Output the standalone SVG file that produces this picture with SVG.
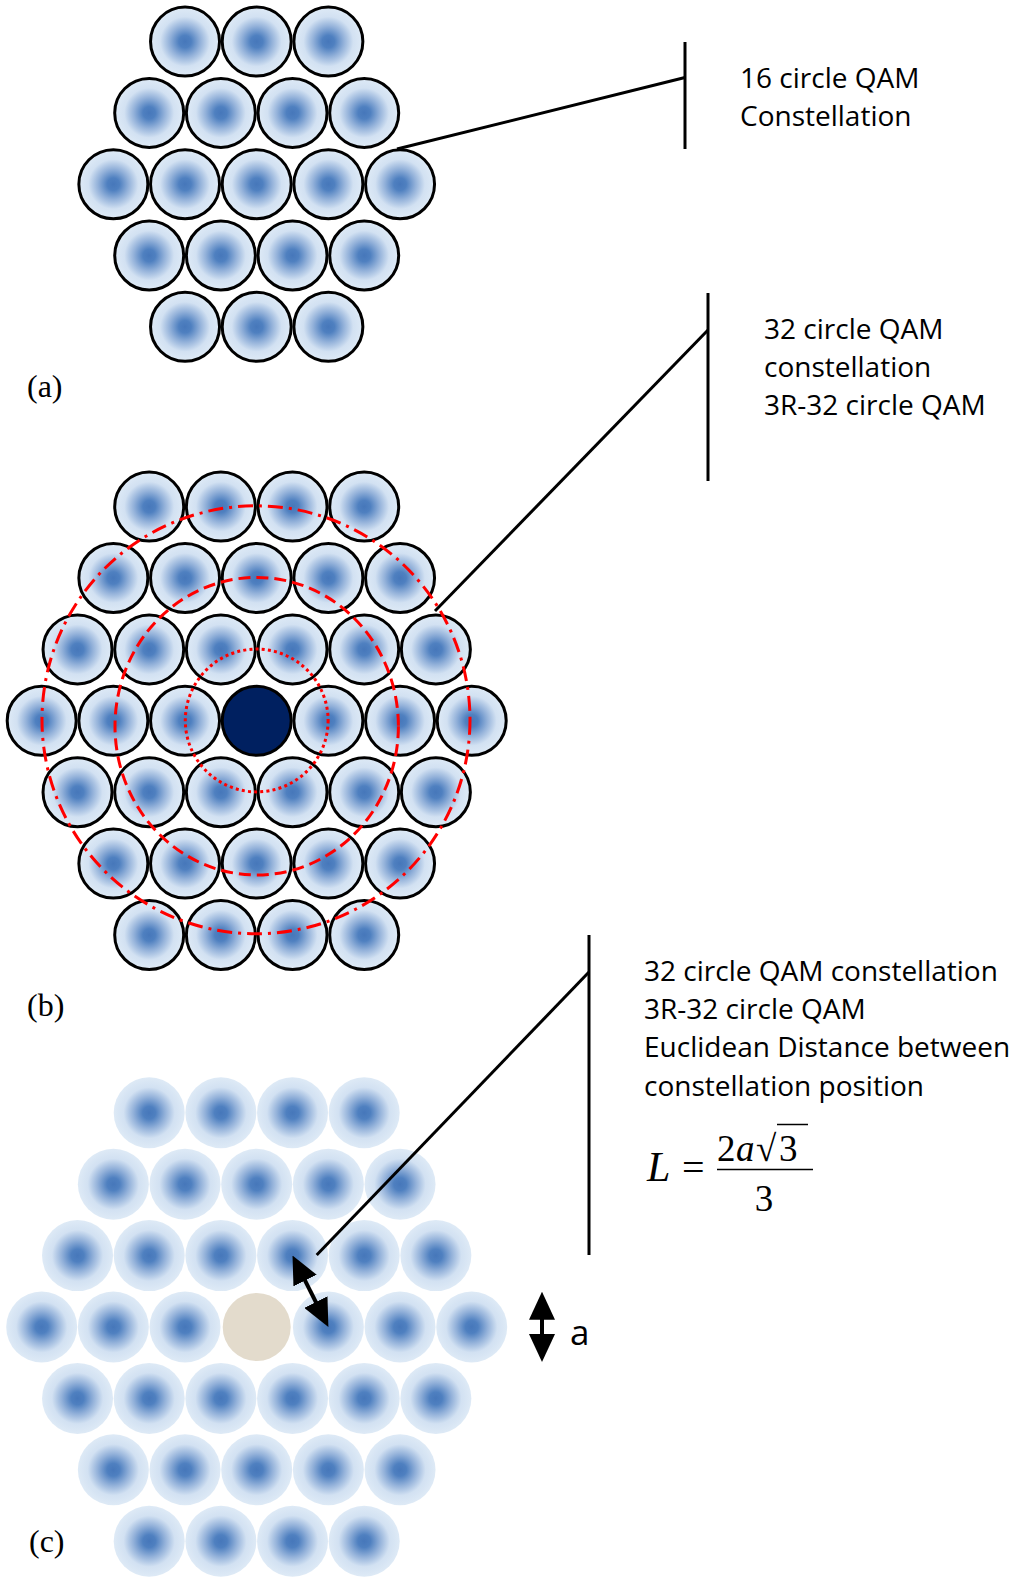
<svg xmlns="http://www.w3.org/2000/svg" xmlns:xlink="http://www.w3.org/1999/xlink" width="1010" height="1582" viewBox="0 0 1010 1582">
<style>
.pt{fill:url(#g);stroke:#000;stroke-width:3}
.pc{fill:url(#g)}
.conn{stroke:#000;stroke-width:3;fill:none}
.arr{stroke:#000;stroke-width:4;fill:none;marker-start:url(#ah);marker-end:url(#ah)}
.lbl{font-family:"Open Sans","Liberation Sans",sans-serif;font-size:28px;fill:#000}
.big{font-family:"Open Sans","Liberation Sans",sans-serif;font-size:35px;fill:#000}
.cap{font-family:"Liberation Serif","Times New Roman",serif;font-size:32px;fill:#000}
.math{font-family:"Liberation Serif","Times New Roman",serif;fill:#000}
.red{fill:none;stroke:#ff0000;stroke-width:3}
</style>
<defs>
<radialGradient id="g" cx="0.5" cy="0.5" r="0.5">
<stop offset="0" stop-color="#4677ba"/>
<stop offset="0.18" stop-color="#4f80c0"/>
<stop offset="0.45" stop-color="#94b2da"/>
<stop offset="0.72" stop-color="#d2e1f2"/>
<stop offset="1" stop-color="#deeaf6"/>
</radialGradient>
<marker id="ah" viewBox="0 0 28 26" markerUnits="userSpaceOnUse" markerWidth="28" markerHeight="26" refX="20" refY="13" orient="auto-start-reverse">
<path d="M0,0 L28,13 L0,26 z" fill="#000"/>
</marker>
</defs>
<rect width="1010" height="1582" fill="#fff"/>

<g id="panel-a">
<circle class="pt" cx="185.03" cy="41.6" r="34.5"/>
<circle class="pt" cx="256.7" cy="41.6" r="34.5"/>
<circle class="pt" cx="328.37" cy="41.6" r="34.5"/>
<circle class="pt" cx="149.2" cy="112.9" r="34.5"/>
<circle class="pt" cx="220.87" cy="112.9" r="34.5"/>
<circle class="pt" cx="292.53" cy="112.9" r="34.5"/>
<circle class="pt" cx="364.2" cy="112.9" r="34.5"/>
<circle class="pt" cx="113.36" cy="184.2" r="34.5"/>
<circle class="pt" cx="185.03" cy="184.2" r="34.5"/>
<circle class="pt" cx="256.7" cy="184.2" r="34.5"/>
<circle class="pt" cx="328.37" cy="184.2" r="34.5"/>
<circle class="pt" cx="400.04" cy="184.2" r="34.5"/>
<circle class="pt" cx="149.2" cy="255.5" r="34.5"/>
<circle class="pt" cx="220.87" cy="255.5" r="34.5"/>
<circle class="pt" cx="292.53" cy="255.5" r="34.5"/>
<circle class="pt" cx="364.2" cy="255.5" r="34.5"/>
<circle class="pt" cx="185.03" cy="326.8" r="34.5"/>
<circle class="pt" cx="256.7" cy="326.8" r="34.5"/>
<circle class="pt" cx="328.37" cy="326.8" r="34.5"/>
<text class="cap" x="27" y="397">(a)</text>
</g>

<g id="panel-b">
<circle class="pt" cx="149.2" cy="506.6" r="34.5"/>
<circle class="pt" cx="220.87" cy="506.6" r="34.5"/>
<circle class="pt" cx="292.53" cy="506.6" r="34.5"/>
<circle class="pt" cx="364.2" cy="506.6" r="34.5"/>
<circle class="pt" cx="113.36" cy="578" r="34.5"/>
<circle class="pt" cx="185.03" cy="578" r="34.5"/>
<circle class="pt" cx="256.7" cy="578" r="34.5"/>
<circle class="pt" cx="328.37" cy="578" r="34.5"/>
<circle class="pt" cx="400.04" cy="578" r="34.5"/>
<circle class="pt" cx="77.53" cy="649.4" r="34.5"/>
<circle class="pt" cx="149.2" cy="649.4" r="34.5"/>
<circle class="pt" cx="220.87" cy="649.4" r="34.5"/>
<circle class="pt" cx="292.53" cy="649.4" r="34.5"/>
<circle class="pt" cx="364.2" cy="649.4" r="34.5"/>
<circle class="pt" cx="435.87" cy="649.4" r="34.5"/>
<circle class="pt" cx="41.69" cy="720.8" r="34.5"/>
<circle class="pt" cx="113.36" cy="720.8" r="34.5"/>
<circle class="pt" cx="185.03" cy="720.8" r="34.5"/>
<circle id="b-center" cx="256.7" cy="720.8" r="34.5" fill="#002060" stroke="#000" stroke-width="3"/>
<circle class="pt" cx="328.37" cy="720.8" r="34.5"/>
<circle class="pt" cx="400.04" cy="720.8" r="34.5"/>
<circle class="pt" cx="471.71" cy="720.8" r="34.5"/>
<circle class="pt" cx="77.53" cy="792.2" r="34.5"/>
<circle class="pt" cx="149.2" cy="792.2" r="34.5"/>
<circle class="pt" cx="220.87" cy="792.2" r="34.5"/>
<circle class="pt" cx="292.53" cy="792.2" r="34.5"/>
<circle class="pt" cx="364.2" cy="792.2" r="34.5"/>
<circle class="pt" cx="435.87" cy="792.2" r="34.5"/>
<circle class="pt" cx="113.36" cy="863.6" r="34.5"/>
<circle class="pt" cx="185.03" cy="863.6" r="34.5"/>
<circle class="pt" cx="256.7" cy="863.6" r="34.5"/>
<circle class="pt" cx="328.37" cy="863.6" r="34.5"/>
<circle class="pt" cx="400.04" cy="863.6" r="34.5"/>
<circle class="pt" cx="149.2" cy="935" r="34.5"/>
<circle class="pt" cx="220.87" cy="935" r="34.5"/>
<circle class="pt" cx="292.53" cy="935" r="34.5"/>
<circle class="pt" cx="364.2" cy="935" r="34.5"/>
<circle id="ring-inner" class="red" cx="256.7" cy="720.5" r="71.4" stroke-dasharray="3 3.2"/>
<ellipse id="ring-middle" class="red" cx="256.7" cy="726.2" rx="141.7" ry="148.8" stroke-dasharray="12 6"/>
<circle id="ring-outer" class="red" cx="256" cy="719.8" r="214" stroke-dasharray="15 6 3 6"/>
<text class="cap" x="27" y="1016">(b)</text>
</g>

<g id="panel-c">
<circle class="pc" cx="149.2" cy="1112.8" r="35.5"/>
<circle class="pc" cx="220.87" cy="1112.8" r="35.5"/>
<circle class="pc" cx="292.53" cy="1112.8" r="35.5"/>
<circle class="pc" cx="364.2" cy="1112.8" r="35.5"/>
<circle class="pc" cx="113.36" cy="1184.2" r="35.5"/>
<circle class="pc" cx="185.03" cy="1184.2" r="35.5"/>
<circle class="pc" cx="256.7" cy="1184.2" r="35.5"/>
<circle class="pc" cx="328.37" cy="1184.2" r="35.5"/>
<circle class="pc" cx="400.04" cy="1184.2" r="35.5"/>
<circle class="pc" cx="77.53" cy="1255.6" r="35.5"/>
<circle class="pc" cx="149.2" cy="1255.6" r="35.5"/>
<circle class="pc" cx="220.87" cy="1255.6" r="35.5"/>
<circle class="pc" cx="292.53" cy="1255.6" r="35.5"/>
<circle class="pc" cx="364.2" cy="1255.6" r="35.5"/>
<circle class="pc" cx="435.87" cy="1255.6" r="35.5"/>
<circle class="pc" cx="41.69" cy="1327" r="35.5"/>
<circle class="pc" cx="113.36" cy="1327" r="35.5"/>
<circle class="pc" cx="185.03" cy="1327" r="35.5"/>
<circle id="c-center" cx="256.7" cy="1327" r="34" fill="#e3dbcc"/>
<circle class="pc" cx="328.37" cy="1327" r="35.5"/>
<circle class="pc" cx="400.04" cy="1327" r="35.5"/>
<circle class="pc" cx="471.71" cy="1327" r="35.5"/>
<circle class="pc" cx="77.53" cy="1398.4" r="35.5"/>
<circle class="pc" cx="149.2" cy="1398.4" r="35.5"/>
<circle class="pc" cx="220.87" cy="1398.4" r="35.5"/>
<circle class="pc" cx="292.53" cy="1398.4" r="35.5"/>
<circle class="pc" cx="364.2" cy="1398.4" r="35.5"/>
<circle class="pc" cx="435.87" cy="1398.4" r="35.5"/>
<circle class="pc" cx="113.36" cy="1469.8" r="35.5"/>
<circle class="pc" cx="185.03" cy="1469.8" r="35.5"/>
<circle class="pc" cx="256.7" cy="1469.8" r="35.5"/>
<circle class="pc" cx="328.37" cy="1469.8" r="35.5"/>
<circle class="pc" cx="400.04" cy="1469.8" r="35.5"/>
<circle class="pc" cx="149.2" cy="1541.2" r="35.5"/>
<circle class="pc" cx="220.87" cy="1541.2" r="35.5"/>
<circle class="pc" cx="292.53" cy="1541.2" r="35.5"/>
<circle class="pc" cx="364.2" cy="1541.2" r="35.5"/>
<text class="cap" x="29" y="1552">(c)</text>
</g>

<g id="connectors">
<line class="conn" x1="685" y1="42" x2="685" y2="149"/>
<line class="conn" x1="397" y1="149" x2="685" y2="77.5"/>
<line class="conn" x1="708" y1="293" x2="708" y2="481"/>
<line class="conn" x1="435" y1="611" x2="708" y2="330"/>
<line class="conn" x1="589" y1="935" x2="589" y2="1255"/>
<line class="conn" x1="316.7" y1="1255" x2="589" y2="972"/>
<line class="arr" x1="296.1" y1="1262.7" x2="324.8" y2="1319.9"/>
<line class="arr" x1="542" y1="1299.7" x2="542" y2="1354"/>
</g>

<g id="label-a">
<text class="lbl" x="740" y="88">16 circle QAM</text>
<text class="lbl" x="740" y="126">Constellation</text>
</g>
<g id="label-b">
<text class="lbl" x="764" y="339">32 circle QAM</text>
<text class="lbl" x="764" y="377">constellation</text>
<text class="lbl" x="764" y="415">3R-32 circle QAM</text>
</g>
<g id="label-c">
<text class="lbl" x="644" y="981">32 circle QAM constellation</text>
<text class="lbl" x="644" y="1019">3R-32 circle QAM</text>
<text class="lbl" x="644" y="1057">Euclidean Distance between</text>
<text class="lbl" x="644" y="1096">constellation position</text>
</g>
<g id="formula">
<text class="math" x="647" y="1181" font-size="42" font-style="italic">L</text>
<text class="math" x="682" y="1181" font-size="40">=</text>
<line x1="717" y1="1169.5" x2="813" y2="1169.5" stroke="#000" stroke-width="1.5"/>
<text class="math" x="717" y="1161" font-size="37">2</text>
<text class="math" x="736" y="1161" font-size="37" font-style="italic">a</text>
<text class="math" x="756" y="1161" font-size="37">√</text>
<line x1="777" y1="1124.5" x2="808" y2="1124.5" stroke="#000" stroke-width="1.5"/>
<text class="math" x="779" y="1161" font-size="37">3</text>
<text class="math" x="764" y="1211" font-size="37" text-anchor="middle">3</text>
</g>
<g id="label-a-dim">
<text class="big" x="570" y="1345">a</text>
</g>
</svg>
